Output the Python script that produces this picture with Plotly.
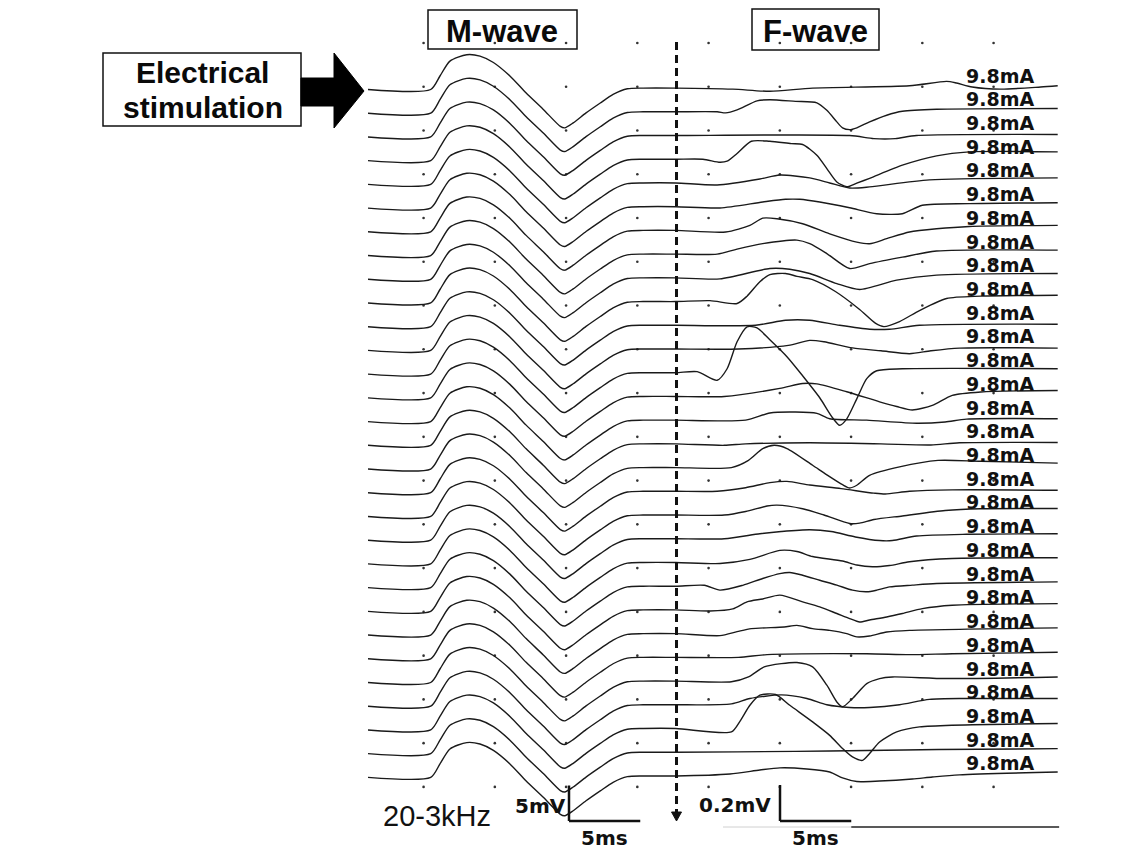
import plotly.graph_objects as go

W, H = 1145, 849

# ---------------- data ----------------
stim_labels = ["9.8mA"] * 30

# M-wave (identical in all 30 sweeps), time in ms after the stimulus, amplitude in mV
m_wave_ms = [0, 4.4, 5.05, 5.75, 6.93, 7.86, 8.8, 9.96, 11.1, 12.3, 13.5, 13.8,
             14.4, 15.3, 16.3, 17.2, 18.2, 19.3, 21.6]
m_wave_mv = [0, 0.0, 1.9, 4.0, 4.9, 4.7, 3.8, 1.9, -0.5, -2.8, -5.2, -5.4,
             -4.7, -3.3, -1.9, -0.7, 0.1, 0.2, 0.2]

# F-wave key points per sweep: (time ms, amplitude uV)
f_wave_points = [
    [(21.6, 0), (25.6, -6), (28.2, -18), (31.2, 0), (38.0, 13), (40.6, 37), (41.3, 28), (42.4, 6), (44.4, -6), (47.2, 6), (48.4, 13)],
    [(21.6, 0), (24.5, 0), (25.1, -6), (25.9, 11), (27.3, 61), (28.2, 67), (30.0, 58), (31.5, 50), (32.2, 8), (32.9, -56), (33.3, -89), (33.8, -99), (34.3, -89), (35.2, -56), (36.4, -19), (37.5, 3), (39.9, 14), (48.4, 18)],
    [(21.6, 0), (33.8, 0), (35.5, -17), (37.0, -17), (38.5, 0), (48.4, 6)],
    [(21.6, 0), (23.5, 0), (24.7, -17), (25.2, -11), (25.9, 32), (26.9, 100), (28.2, 100), (29.7, 87), (30.5, 82), (31.5, 22), (32.2, -52), (32.9, -126), (33.6, -153), (34.3, -133), (35.2, -106), (37.5, -33), (39.9, 19), (42.2, 41), (48.4, 41)],
    [(21.6, 0), (24.5, -11), (27.5, 22), (28.9, 44), (31.0, 28), (32.4, 0), (33.8, -28), (35.2, -22), (39.4, 17), (48.4, 28)],
    [(21.6, 0), (24.7, -7), (27.7, 26), (29.3, 41), (30.3, 41), (31.7, 26), (33.8, -6), (35.7, -39), (37.5, -39), (38.9, 8), (42.2, 17), (48.4, 22)],
    [(21.6, 0), (25.1, -9), (26.8, 28), (27.7, 68), (28.7, 65), (30.5, 37), (32.4, -19), (34.3, -65), (35.2, -74), (36.4, -46), (38.0, -9), (39.9, 9), (42.2, 22), (48.4, 28)],
    [(21.6, 0), (24.5, 0), (25.9, 28), (27.7, 58), (30.1, 78), (31.0, 58), (32.2, 3), (33.8, -80), (35.2, -53), (37.5, -17), (39.9, 17), (48.4, 22)],
    [(21.6, 0), (24.7, -6), (28.2, 52), (29.6, 48), (31.0, 24), (32.9, -32), (34.5, -65), (37.1, -13), (39.9, 15), (48.4, 24)],
    [(21.6, 0), (24.0, 5), (25.9, -11), (26.6, 30), (27.5, 110), (28.2, 150), (29.3, 156), (30.1, 140), (31.2, 122), (32.8, 56), (34.5, -44), (35.6, -120), (36.2, -139), (37.3, -111), (38.7, -50), (40.6, 17), (43.0, 30), (48.4, 35)],
    [(21.6, 0), (27.2, 0), (29.3, 28), (31.0, 28), (33.1, 0), (35.2, -22), (36.6, -22), (38.7, 0), (48.4, 6)],
    [(21.6, 0), (26.0, 0), (29.5, 20), (31.0, 48), (32.0, 40), (34.0, 6), (36.0, -10), (38.0, -26), (39.5, -10), (41.5, 5), (48.4, 5)],
    [(21.6, 0), (23.1, 6), (24.5, -42), (25.2, 22), (25.9, 172), (26.6, 255), (27.3, 249), (28.2, 183), (29.4, 89), (30.5, -17), (31.7, -139), (32.6, -250), (33.1, -292), (33.6, -256), (34.3, -145), (35.0, -33), (35.7, 11), (37.5, 22), (48.4, 22)],
    [(21.6, 0), (25.0, 0), (28.9, 45), (30.5, 72), (31.5, 70), (33.6, 26), (35.9, -30), (37.1, -56), (38.2, -75), (39.6, -50), (41.0, 6), (43.0, 25), (48.4, 33)],
    [(21.6, 0), (26.5, 0), (28.2, 40), (30.0, 45), (31.5, 38), (32.4, 8), (35.0, 0), (38.5, -17), (40.5, -10), (42.0, 6), (48.4, 8)],
    [(21.6, 0), (25.0, -8), (26.5, 0), (31.0, 6), (36.0, 0), (39.5, -6), (41.5, 6), (48.4, 8)],
    [(21.6, 0), (25.5, 0), (26.7, 40), (27.7, 105), (28.5, 124), (29.4, 106), (31.2, 13), (32.2, -40), (33.3, -95), (33.8, -113), (34.3, -98), (35.2, -43), (37.3, 4), (40.0, 40), (43.0, 35), (48.4, 25)],
    [(21.6, 0), (24.5, 0), (26.5, 20), (28.2, 48), (29.4, 55), (31.0, 35), (33.2, 15), (35.5, -10), (36.3, -15), (38.0, 0), (41.0, 8), (48.4, 6)],
    [(21.6, 0), (25.0, 0), (26.5, 20), (28.0, 50), (28.7, 55), (30.5, 35), (32.0, 0), (33.8, -47), (34.5, -45), (35.5, -25), (37.5, -5), (40.5, 25), (43.0, 35), (48.4, 36)],
    [(21.6, 0), (25.0, 0), (27.5, 28), (29.0, 40), (31.0, 50), (32.5, 40), (34.2, 10), (35.9, -10), (36.8, -10), (38.5, 15), (42.0, 25), (48.4, 28)],
    [(21.6, 0), (24.7, -6), (26.8, 17), (28.9, 67), (30.1, 61), (31.2, 33), (33.3, 8), (34.3, -14), (35.4, -24), (36.6, -17), (38.0, 4), (41.0, 22), (48.4, 26)],
    [(21.6, 0), (23.6, 5), (24.7, -22), (26.3, 5), (27.7, 43), (28.9, 70), (29.6, 76), (30.5, 61), (31.7, 33), (32.9, 6), (34.0, -22), (35.0, -31), (35.7, -22), (36.6, -4), (38.2, 6), (39.9, 15), (48.4, 24)],
    [(21.6, 0), (24.0, -6), (25.6, 6), (26.6, 45), (27.7, 61), (28.9, 82), (30.5, 45), (31.7, 17), (32.9, -20), (33.8, -48), (34.5, -67), (35.2, -56), (36.4, -39), (37.5, -20), (38.9, 7), (41.0, 26), (48.4, 35)],
    [(21.6, 0), (24.7, -11), (25.9, 11), (26.9, 28), (29.2, 37), (30.1, 46), (31.2, 28), (32.4, 18), (33.6, 0), (34.3, -18), (35.2, -13), (36.4, 9), (38.0, 18), (48.4, 32)],
    [(21.6, 0), (26.0, 0), (28.0, 15), (35.0, 20), (38.0, 15), (41.0, 20), (48.4, 28)],
    [(21.6, 0), (25.5, -4), (26.7, 23), (27.8, 79), (29.0, 97), (30.1, 103), (31.2, 79), (32.2, -23), (32.9, -116), (33.3, -143), (34.0, -97), (35.0, -14), (35.9, 14), (36.8, 23), (40.6, 14), (48.4, 23)],
    [(21.6, 0), (25.5, 5), (26.8, 35), (29.0, 55), (30.8, 35), (32.2, 0), (33.8, -15), (35.2, -15), (37.3, 0), (39.4, 30), (42.0, 35), (48.4, 35)],
    [(21.6, 0), (25.5, -19), (26.1, 40), (26.8, 129), (27.5, 185), (28.6, 189), (29.6, 129), (31.2, 37), (32.4, -38), (33.3, -111), (34.0, -158), (34.7, -177), (35.2, -139), (35.9, -75), (37.1, -19), (38.7, 9), (48.4, 28)],
    [(21.6, 0), (30.0, 5), (35.0, 10), (40.0, 15), (48.4, 20)],
    [(21.6, 0), (25.4, 11), (27.5, 33), (28.9, 45), (30.8, 39), (32.4, 22), (33.3, -11), (34.3, -31), (35.9, -28), (38.2, -17), (39.6, -6), (41.5, 6), (48.4, 22)],
]

grid_ms = [3.9, 8.9, 13.9, 18.9, 23.9, 28.9, 33.9, 38.9, 43.9]
split_ms = 21.65          # gain change (dashed line)
m_scale_mv, m_scale_ms = 5, 5
f_scale_mv, f_scale_ms = 0.2, 5

# ---------------- layout constants (display geometry) ----------------
PX_PER_MS = 14.25
T0_PX = 368
BASE0 = 89.5
ROW = 23.72
GAIN_L = 7.1          # px per mV (M-wave part)
GAIN_R = 0.18         # px per uV (F-wave part)
INK = "#1a1a1a"


def px2ms(px):
    return (px - T0_PX) / PX_PER_MS


def px(x):
    return x / W


def py(y):
    return 1 - y / H


fig = go.Figure()

# oscilloscope dot grid
gx, gy = [], []
for j in range(18):
    for t in grid_ms:
        gx.append(t)
        gy.append(43 + 43.76 * j)
fig.add_trace(go.Scatter(x=gx, y=gy, mode="markers",
                         marker=dict(size=2.6, color="#333"), hoverinfo="skip"))

# sweeps
for i, pts in enumerate(f_wave_points):
    base = BASE0 + ROW * i
    xs = list(m_wave_ms)
    ys = [base - GAIN_L * v for v in m_wave_mv]
    tail = base - GAIN_L * m_wave_mv[-1]
    for t, uv in pts[1:]:
        xs.append(t)
        ys.append(tail - GAIN_R * uv)
    fig.add_trace(go.Scatter(x=xs, y=ys, mode="lines",
                             line=dict(color=INK, width=1.4, shape="spline", smoothing=0.7),
                             hoverinfo="skip"))
    fig.add_annotation(x=44.35, y=base - 14, xref="x", yref="y", text="<b>" + stim_labels[i] + "</b>",
                       showarrow=False, xanchor="center", yanchor="middle",
                       font=dict(family="DejaVu Sans", size=19, color="#111"))

shapes = []
# dashed separator with arrow head
shapes.append(dict(type="line", xref="x", yref="y", x0=split_ms, x1=split_ms, y0=42, y1=812,
                   line=dict(color="#111", width=3, dash="8px,5px")))
shapes.append(dict(type="path", xref="x", yref="y",
                   path=f"M {split_ms-0.35},{812} L {split_ms+0.35},{812} L {split_ms},{821} Z",
                   fillcolor="#111", line=dict(color="#111", width=1)))

# scale bars
SB_Y = 821
lx = px2ms(569)
shapes.append(dict(type="line", xref="x", yref="y", x0=lx, x1=lx, y0=SB_Y, y1=SB_Y - GAIN_L * m_scale_mv,
                   line=dict(color="#111", width=2.5)))
shapes.append(dict(type="line", xref="x", yref="y", x0=lx, x1=lx + m_scale_ms, y0=SB_Y, y1=SB_Y,
                   line=dict(color="#111", width=2.5)))
rx = px2ms(780)
shapes.append(dict(type="line", xref="x", yref="y", x0=rx, x1=rx, y0=SB_Y, y1=SB_Y - GAIN_R * f_scale_mv * 1000,
                   line=dict(color="#111", width=2.5)))
shapes.append(dict(type="line", xref="x", yref="y", x0=rx, x1=rx + f_scale_ms, y0=SB_Y, y1=SB_Y,
                   line=dict(color="#111", width=2.5)))
shapes.append(dict(type="line", xref="x", yref="y", x0=px2ms(723), x1=rx + f_scale_ms, y0=827, y1=827,
                   line=dict(color="#d0d0d0", width=1)))
shapes.append(dict(type="line", xref="x", yref="y", x0=rx + f_scale_ms, x1=48.5, y0=827, y1=827,
                   line=dict(color="#222", width=1.5)))

# label boxes
for (x0, y0, x1, y1) in [(428, 10, 577, 49), (752, 9, 879, 50), (103, 53, 301, 126)]:
    shapes.append(dict(type="rect", xref="paper", yref="paper", x0=px(x0), x1=px(x1), y0=py(y1), y1=py(y0),
                       line=dict(color="#111", width=1.5), fillcolor="rgba(0,0,0,0)"))

# stimulation arrow
arrow = [(301, 78), (334, 78), (334, 53), (364, 91), (334, 128), (334, 106), (301, 106)]
path = "M " + " L ".join(f"{px(a)},{py(b)}" for a, b in arrow) + " Z"
shapes.append(dict(type="path", xref="paper", yref="paper", path=path,
                   fillcolor="#000", line=dict(color="#000", width=1)))


def label(xp, yp, text, font):
    fig.add_annotation(x=px(xp), y=py(yp), xref="paper", yref="paper", text=text,
                       showarrow=False, xanchor="center", yanchor="middle", font=font)


big = dict(family="Liberation Sans, Arial", size=31, color="#0a0a0a")
label(502, 31, "<b>M-wave</b>", big)
label(815, 31, "<b>F-wave</b>", big)
mid = dict(family="Liberation Sans, Arial", size=30, color="#0a0a0a")
label(202, 73, "<b>Electrical</b>", mid)
label(203, 107, "<b>stimulation</b>", mid)
label(437, 816, "20-3kHz", dict(family="Liberation Sans, Arial", size=29, color="#111"))

small = dict(family="DejaVu Sans", size=20, color="#111")
fig.add_annotation(x=lx - 0.1, y=806, xref="x", yref="y", text="<b>5mV</b>", xanchor="right",
                   yanchor="middle", showarrow=False, font=small)
fig.add_annotation(x=lx + m_scale_ms / 2, y=838, xref="x", yref="y", text="<b>5ms</b>",
                   xanchor="center", yanchor="middle", showarrow=False, font=small)
fig.add_annotation(x=rx - 0.5, y=805, xref="x", yref="y", text="<b>0.2mV</b>", xanchor="right",
                   yanchor="middle", showarrow=False, font=small)
fig.add_annotation(x=rx + f_scale_ms / 2, y=838, xref="x", yref="y", text="<b>5ms</b>",
                   xanchor="center", yanchor="middle", showarrow=False, font=small)

fig.update_layout(
    width=W, height=H, margin=dict(l=0, r=0, t=0, b=0),
    paper_bgcolor="white", plot_bgcolor="white", showlegend=False,
    shapes=shapes,
    xaxis=dict(range=[px2ms(0), px2ms(W)], visible=False, showgrid=False, zeroline=False, fixedrange=True),
    yaxis=dict(range=[H, 0], visible=False, showgrid=False, zeroline=False, fixedrange=True),
)

fig.write_html("out.html")
